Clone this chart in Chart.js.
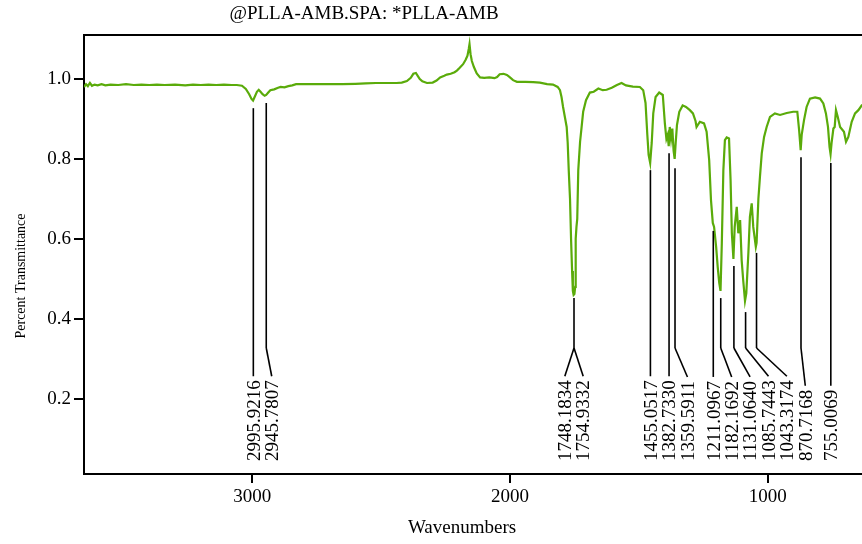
<!DOCTYPE html>
<html>
<head>
<meta charset="utf-8">
<script src="https://cdn.jsdelivr.net/npm/chart.js@4.4.1/dist/chart.umd.min.js"></script>
<style>
  html, body { margin: 0; padding: 0; background: #fff; overflow: hidden; }
  #wrap { width: 862px; height: 544px; position: relative; }
</style>
</head>
<body>
<div id="wrap"><canvas id="c" width="862" height="544"></canvas></div>
<script>
// ---- Data ----
const chartTitle = "@PLLA-AMB.SPA: *PLLA-AMB";
const xAxisTitle = "Wavenumbers";
const yAxisTitle = "Percent Transmittance";

const wavenumbers = [
  3653, 3645, 3638, 3630, 3622, 3612, 3600, 3585, 3570, 3550, 3520, 3490, 3460, 3430, 3400, 3370, 3340, 3300,
  3260, 3230, 3200, 3170, 3140, 3110, 3080, 3060, 3040, 3025, 3012, 3003, 2997, 2990, 2982, 2975, 2968, 2960,
  2952, 2946, 2938, 2930, 2915, 2900, 2890, 2875, 2860, 2845, 2830, 2800, 2750, 2700, 2650, 2600, 2560, 2520,
  2480, 2440, 2420, 2400, 2385, 2375, 2365, 2358, 2350, 2340, 2322, 2300, 2285, 2271, 2255, 2245, 2230, 2215,
  2206, 2195, 2182, 2172, 2165, 2160, 2157, 2153, 2148, 2140, 2129, 2116, 2100, 2080, 2060, 2050, 2040, 2025,
  2012, 2000, 1988, 1973, 1940, 1910, 1884, 1856, 1833, 1815, 1806, 1800, 1794, 1787, 1780, 1776, 1772, 1767,
  1763, 1759, 1756, 1753, 1750, 1747, 1745, 1742, 1739, 1735, 1728, 1722, 1716, 1705, 1690, 1675, 1657, 1640,
  1625, 1605, 1585, 1567, 1550, 1523, 1496, 1483, 1474, 1467, 1462, 1456, 1450, 1444, 1435, 1421, 1407, 1399,
  1393, 1388, 1384, 1380, 1375, 1370, 1365, 1361, 1357, 1352, 1343, 1330, 1317, 1302, 1290, 1280, 1276, 1263,
  1247, 1237, 1227, 1220, 1213, 1208, 1200, 1194, 1188, 1183, 1178, 1172, 1166, 1159, 1150, 1144, 1139, 1133,
  1128, 1120, 1114, 1107, 1101, 1095, 1088, 1083, 1075, 1069, 1062, 1056, 1046, 1043, 1036, 1030, 1023, 1014,
  1004, 991, 972, 952, 926, 901, 885, 878, 872, 868, 859, 849, 836, 816, 797, 784, 774, 766, 760, 756, 752,
  745, 740, 735, 728, 719, 704, 696, 687, 674, 661, 648, 635, 620
];
const transmittance = [
  0.980, 0.987, 0.982, 0.990, 0.983, 0.986, 0.984, 0.987, 0.984, 0.986, 0.985, 0.987, 0.985, 0.986, 0.985, 0.986, 0.985, 0.986,
  0.984, 0.986, 0.985, 0.986, 0.985, 0.986, 0.985, 0.985, 0.983, 0.975, 0.962, 0.950, 0.946, 0.956, 0.968, 0.973, 0.968, 0.962,
  0.958, 0.960, 0.966, 0.972, 0.974, 0.978, 0.980, 0.979, 0.982, 0.984, 0.987, 0.987, 0.987, 0.987, 0.987, 0.988, 0.989, 0.990,
  0.990, 0.990, 0.991, 0.995, 1.003, 1.013, 1.015, 1.008, 1.000, 0.994, 0.990, 0.991, 0.996, 1.004, 1.008, 1.011, 1.013, 1.017,
  1.021, 1.028, 1.037, 1.048, 1.058, 1.075, 1.087, 1.062, 1.045, 1.030, 1.014, 1.004, 1.003, 1.004, 1.002, 1.005, 1.012, 1.013,
  1.010, 1.004, 0.997, 0.993, 0.993, 0.992, 0.991, 0.987, 0.986, 0.980, 0.972, 0.955, 0.930, 0.905, 0.880, 0.840, 0.772, 0.700,
  0.600, 0.520, 0.470, 0.460, 0.462, 0.480, 0.600, 0.630, 0.650, 0.772, 0.843, 0.880, 0.918, 0.947, 0.966, 0.968, 0.976, 0.972,
  0.973, 0.978, 0.985, 0.990, 0.984, 0.981, 0.980, 0.972, 0.940, 0.860, 0.810, 0.790, 0.840, 0.914, 0.955, 0.966, 0.960, 0.889,
  0.850, 0.860, 0.832, 0.880, 0.850, 0.876, 0.820, 0.800, 0.840, 0.885, 0.918, 0.934, 0.930, 0.922, 0.914, 0.895, 0.880, 0.893,
  0.889, 0.868, 0.797, 0.697, 0.640, 0.630, 0.580, 0.530, 0.490, 0.470, 0.589, 0.772, 0.847, 0.854, 0.851, 0.747, 0.614, 0.550,
  0.630, 0.680, 0.614, 0.647, 0.547, 0.497, 0.445, 0.464, 0.564, 0.655, 0.689, 0.630, 0.580, 0.590, 0.701, 0.755, 0.814, 0.855,
  0.880, 0.905, 0.914, 0.910, 0.915, 0.918, 0.918, 0.872, 0.822, 0.860, 0.897, 0.930, 0.951, 0.954, 0.951, 0.939, 0.914, 0.880, 0.830, 0.812, 0.840,
  0.876, 0.880, 0.922, 0.905, 0.880, 0.868, 0.843, 0.855, 0.893, 0.914, 0.922, 0.934, 0.940
];

// Peak annotations (in the order they appear, left to right)
const peakWavenumbers = [2995.9216, 2945.7807, 1748.1834, 1754.9332, 1455.0517, 1382.7330, 1359.5911,
  1211.0967, 1182.1692, 1131.0640, 1085.7443, 1043.3174, 870.7168, 755.0069];
const peakLabels = ["2995.9216", "2945.7807", "1748.1834", "1754.9332", "1455.0517", "1382.7330", "1359.5911",
  "1211.0967", "1182.1692", "1131.0640", "1085.7443", "1043.3174", "870.7168", "755.0069"];
const peakTops = [0.927, 0.940, 0.452, 0.452, 0.772, 0.814, 0.777, 0.620, 0.452, 0.532, 0.417, 0.565, 0.804, 0.790];

const xTicks = [3000, 2000, 1000];
const yTicks = [0.2, 0.4, 0.6, 0.8, 1.0];

// ---- Styling ----
const FONT = "'Liberation Serif', 'Times New Roman', serif";
const LINE_COLOR = '#5aab0a';

const frameAndText = {
  id: 'frameAndText',
  afterDraw(chart) {
    const ctx = chart.ctx, a = chart.chartArea;
    ctx.save();
    // top border of the plot frame
    ctx.strokeStyle = '#000';
    ctx.lineWidth = 2;
    ctx.beginPath();
    ctx.moveTo(a.left - 1, a.top);
    ctx.lineTo(a.right + 2, a.top);
    ctx.stroke();
    ctx.fillStyle = '#000';
    // title
    ctx.font = '19px ' + FONT;
    ctx.textAlign = 'center';
    ctx.textBaseline = 'alphabetic';
    ctx.fillText(chartTitle, 364, 19);
    // x title
    ctx.fillText(xAxisTitle, 462, 533);
    // y title
    ctx.font = '14px ' + FONT;
    ctx.translate(25, 276);
    ctx.rotate(-Math.PI / 2);
    ctx.fillText(yAxisTitle, 0, 0);
    ctx.restore();
  }
};

const peakMarks = {
  id: 'peakMarks',
  afterDatasetsDraw(chart) {
    const ctx = chart.ctx, xs = chart.scales.x, ys = chart.scales.y;
    const gap = 18.4, fs = 19, textBottom = 461, bendY = 348;
    const px = peakWavenumbers.map(w => xs.getPixelForValue(w));
    // group peaks that share a stem
    const groups = [];
    px.forEach((x, i) => {
      const g = groups[groups.length - 1];
      if (g && Math.abs(x - g.x0) < 3) { g.idx.push(i); g.xs.push(x); }
      else groups.push({ x0: x, idx: [i], xs: [x] });
    });
    const labelX = [];
    let last = -Infinity;
    groups.forEach(g => {
      g.stem = g.xs.reduce((s, v) => s + v, 0) / g.xs.length;
      const n = g.idx.length;
      let start = g.stem - (n - 1) / 2 * gap;
      if (start < last + gap) start = last + gap;
      g.idx.forEach((id, k) => { labelX[id] = start + k * gap; });
      last = start + (n - 1) * gap;
    });
    ctx.save();
    ctx.font = fs + 'px ' + FONT;
    ctx.strokeStyle = '#000';
    ctx.lineWidth = 1.6;
    groups.forEach(g => {
      const topY = Math.max(...g.idx.map(i => ys.getPixelForValue(peakTops[i])));
      ctx.beginPath();
      ctx.moveTo(g.stem, topY);
      ctx.lineTo(g.stem, bendY);
      ctx.stroke();
      g.idx.forEach(i => {
        const w = ctx.measureText(peakLabels[i]).width;
        ctx.beginPath();
        ctx.moveTo(g.stem, bendY);
        ctx.lineTo(labelX[i], textBottom - w - 4);
        ctx.stroke();
      });
    });
    ctx.fillStyle = '#000';
    ctx.textAlign = 'left';
    ctx.textBaseline = 'alphabetic';
    peakLabels.forEach((t, i) => {
      ctx.save();
      ctx.translate(labelX[i] + 0.33 * fs, textBottom);
      ctx.rotate(-Math.PI / 2);
      ctx.fillText(t, 0, 0);
      ctx.restore();
    });
    ctx.restore();
  }
};

new Chart(document.getElementById('c'), {
  type: 'line',
  data: {
    datasets: [{
      data: wavenumbers.map((w, i) => ({ x: w, y: transmittance[i] })),
      borderColor: LINE_COLOR,
      borderWidth: 2.2,
      pointRadius: 0,
      tension: 0,
      fill: false
    }]
  },
  options: {
    responsive: false,
    animation: false,
    devicePixelRatio: 1,
    layout: { padding: { top: 35, left: 0, right: 0, bottom: 0 } },
    plugins: { legend: { display: false }, tooltip: { enabled: false }, title: { display: false } },
    scales: {
      x: {
        type: 'linear',
        reverse: true,
        min: 634,
        max: 3653,
        afterBuildTicks: s => { s.ticks = xTicks.map(v => ({ value: v })); },
        afterFit: s => { s.height = 70; },
        ticks: { color: '#000', font: { family: FONT, size: 19 }, padding: 3, maxRotation: 0, autoSkip: false,
                 callback: v => String(v) },
        grid: { display: true, drawOnChartArea: false, drawTicks: true, tickLength: 9, color: '#000', lineWidth: 2 },
        border: { display: true, color: '#000', width: 2 }
      },
      y: {
        type: 'linear',
        min: 0.012,
        max: 1.11,
        afterBuildTicks: s => { s.ticks = yTicks.map(v => ({ value: v })); },
        afterFit: s => { s.width = 84; },
        ticks: { color: '#000', font: { family: FONT, size: 19 }, padding: 3, autoSkip: false,
                 callback: v => Number(v).toFixed(1) },
        grid: { display: true, drawOnChartArea: false, drawTicks: true, tickLength: 10, color: '#000', lineWidth: 2 },
        border: { display: true, color: '#000', width: 2 }
      }
    }
  },
  plugins: [peakMarks, frameAndText]
});
</script>
</body>
</html>
